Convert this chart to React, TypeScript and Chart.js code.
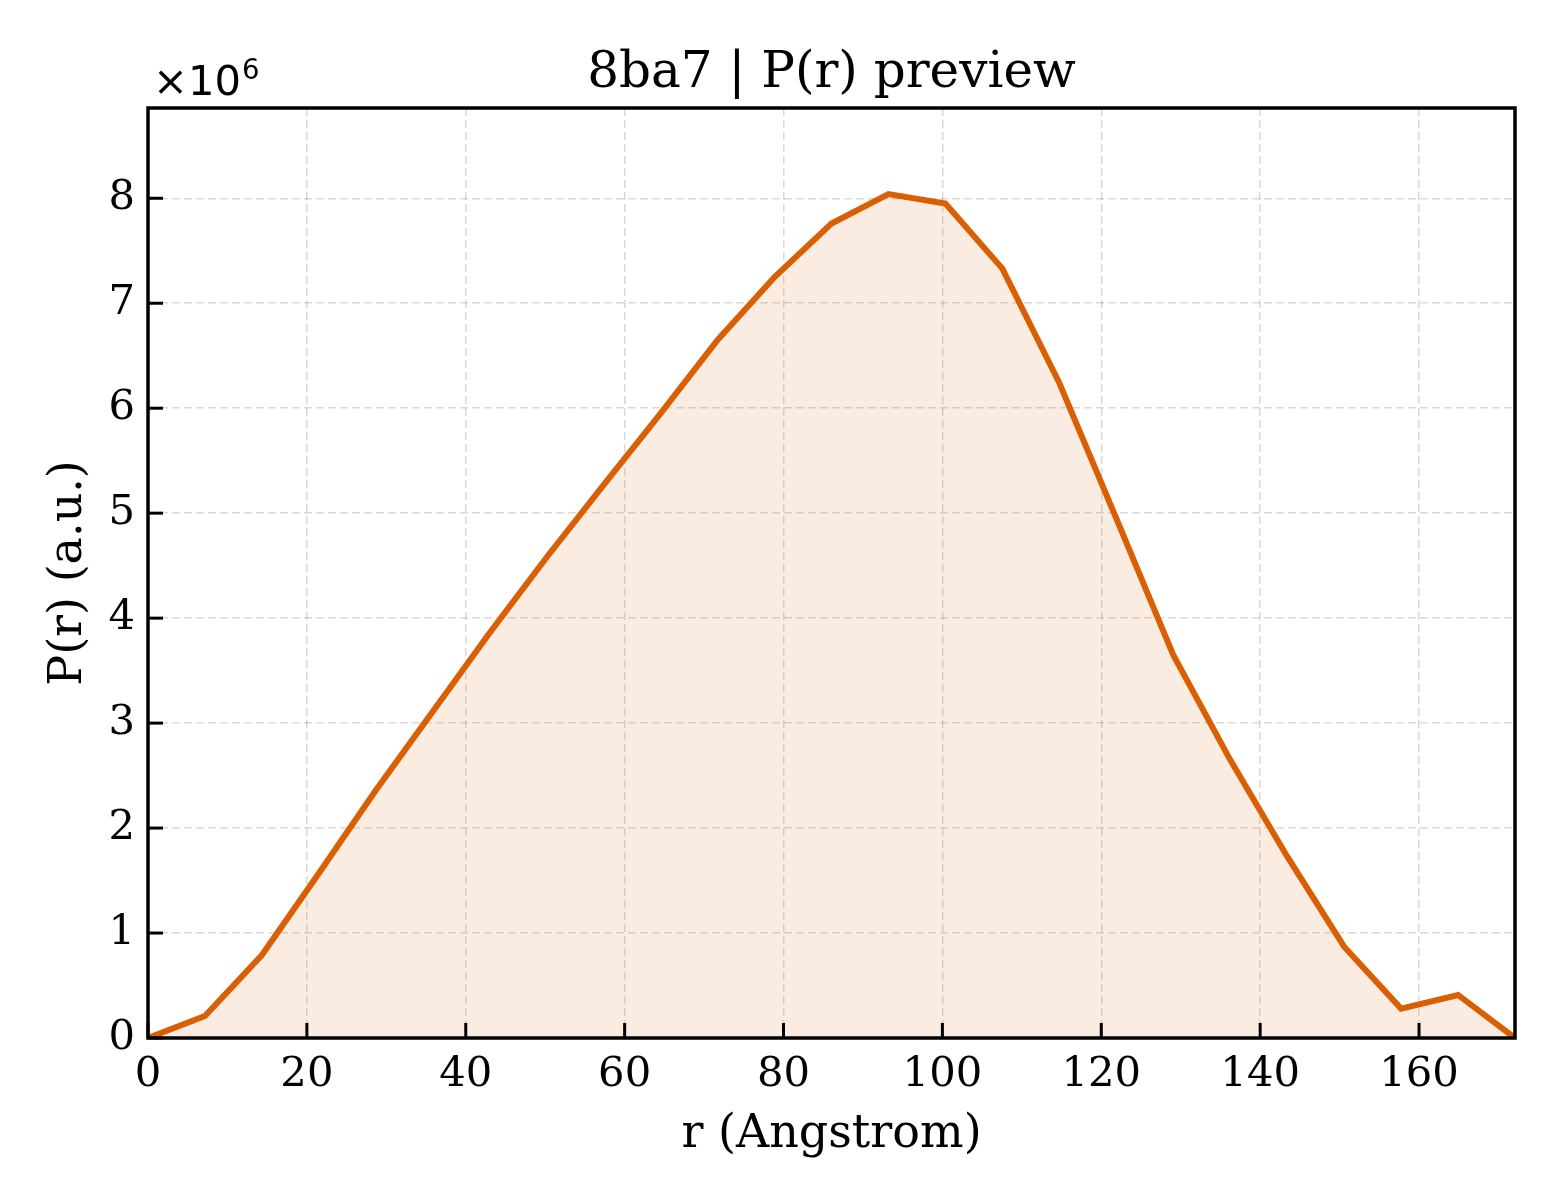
import { useEffect, useRef } from "react"
import { Chart, registerables } from "chart.js"

Chart.register(...registerables)

// r values (Angstrom) of the P(r) samples
const rValues = [
  0, 7.17, 14.34, 21.51, 28.68, 35.85, 43.02, 50.19, 57.36, 64.53, 71.7, 78.87, 86.04,
  93.21, 100.38, 107.55, 114.72, 121.89, 129.06, 136.23, 143.4, 150.57, 157.74, 164.91, 172.08,
]

// P(r) in arbitrary units, x 10^6
const prValues = [
  0, 0.21, 0.79, 1.57, 2.36, 3.11, 3.86, 4.58, 5.27, 5.95, 6.65, 7.25,
  7.76, 8.04, 7.95, 7.33, 6.24, 4.95, 3.65, 2.65, 1.73, 0.87, 0.28,
  0.41, 0,
]

const title = "8ba7 | P(r) preview"
const xLabel = "r (Angstrom)"
const yLabel = "P(r) (a.u.)"

const SERIF = "'DejaVu Serif', serif"
const SANS = "'DejaVu Sans', sans-serif"
const TICK_PX = 41.7
const LABEL_PX = 46
const TITLE_PX = 50
const ORANGE = "#d95f02"

// frame, inward ticks and the texts matplotlib puts around the axes
const decorations = {
  id: "decorations",
  afterDraw(chart: Chart) {
    const { ctx, chartArea } = chart
    const { left, right, top, bottom } = chartArea
    const xs = chart.scales.x
    const ys = chart.scales.y

    ctx.save()
    ctx.strokeStyle = "#000"
    ctx.lineWidth = 3
    xs.ticks.forEach((t) => {
      const px = xs.getPixelForValue(t.value)
      ctx.beginPath()
      ctx.moveTo(px, bottom)
      ctx.lineTo(px, bottom - 15)
      ctx.stroke()
    })
    ys.ticks.forEach((t) => {
      const py = ys.getPixelForValue(t.value)
      ctx.beginPath()
      ctx.moveTo(left, py)
      ctx.lineTo(left + 15, py)
      ctx.stroke()
    })

    ctx.lineWidth = 3.5
    ctx.strokeRect(left, top, right - left, bottom - top)

    ctx.fillStyle = "#000"
    ctx.textBaseline = "alphabetic"
    ctx.textAlign = "center"
    ctx.font = `${TITLE_PX}px ${SERIF}`
    ctx.fillText(title, (left + right) / 2, 87)
    ctx.font = `${LABEL_PX}px ${SERIF}`
    ctx.fillText(xLabel, (left + right) / 2, 1147)

    ctx.save()
    ctx.translate(81, (top + bottom) / 2)
    ctx.rotate(-Math.PI / 2)
    ctx.fillText(yLabel, 0, 0)
    ctx.restore()

    // offset text ×10^6
    ctx.textAlign = "left"
    ctx.font = `${TICK_PX}px ${SANS}`
    const base = "\u00d710"
    ctx.fillText(base, 153, 95)
    const w = ctx.measureText(base).width
    ctx.font = `${TICK_PX * 0.66}px ${SANS}`
    ctx.fillText("6", 153 + w + 1, 79)
    ctx.restore()
  },
}

export default function App() {
  const chartRef = useRef<HTMLCanvasElement>(null)
  const chartInstance = useRef<Chart | null>(null)

  useEffect(() => {
    document.body.style.margin = "0"
    if (!chartRef.current) return
    if (chartInstance.current) chartInstance.current.destroy()

    const ctx = chartRef.current.getContext("2d")
    if (!ctx) return

    chartInstance.current = new Chart(ctx, {
      type: "line",
      data: {
        datasets: [
          {
            label: "P(r)",
            data: rValues.map((r, i) => ({ x: r, y: prValues[i] })),
            borderColor: ORANGE,
            borderWidth: 6,
            backgroundColor: "rgba(217, 95, 2, 0.12)",
            fill: "origin",
            pointRadius: 0,
            tension: 0,
          },
        ],
      },
      options: {
        animation: false,
        responsive: false,
        devicePixelRatio: 1,
        layout: { padding: { top: 108, right: 45, left: 0, bottom: 0 } },
        plugins: {
          legend: { display: false },
          title: { display: false },
          tooltip: { enabled: false },
        },
        scales: {
          x: {
            type: "linear",
            min: 0,
            max: 172.08,
            afterFit: (scale) => {
              scale.height = 162
            },
            ticks: {
              stepSize: 20,
              includeBounds: false,
              maxRotation: 0,
              padding: 12,
              color: "#000",
              font: { family: SERIF, size: TICK_PX },
            },
            grid: { color: "rgba(0,0,0,0.15)", lineWidth: 1.5, drawTicks: false },
            border: { display: false, dash: [8, 4] },
          },
          y: {
            type: "linear",
            min: 0,
            max: 8.86,
            afterFit: (scale) => {
              scale.width = 148
            },
            ticks: {
              stepSize: 1,
              includeBounds: false,
              padding: 13,
              color: "#000",
              font: { family: SERIF, size: TICK_PX },
            },
            grid: { color: "rgba(0,0,0,0.15)", lineWidth: 1.5, drawTicks: false },
            border: { display: false, dash: [8, 4] },
          },
        },
      },
      plugins: [decorations],
    })

    return () => {
      if (chartInstance.current) {
        chartInstance.current.destroy()
        chartInstance.current = null
      }
    }
  }, [])

  return (
    <div style={{ width: 1560, height: 1200, background: "#fff" }}>
      <canvas ref={chartRef} width={1560} height={1200} />
    </div>
  )
}
